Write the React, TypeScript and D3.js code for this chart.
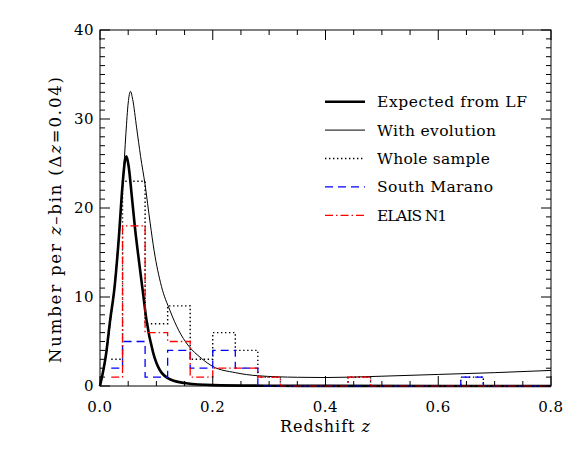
import * as d3 from "d3";

// redshift bins, width 0.04, starting at z = 0
const binStart = 0;
const binWidth = 0.04;
const wholeSample = [3, 23, 7, 9, 3, 6, 4, 1, 0, 0, 0, 1, 0, 0, 0, 0, 1, 0, 0, 0];
const southMarano = [2, 5, 1, 4, 2, 4, 2, 0, 0, 0, 0, 0, 0, 0, 0, 0, 1, 0, 0, 0];
const elaisN1 = [1, 18, 6, 5, 1, 2, 2, 1, 0, 0, 0, 1, 0, 0, 0, 0, 0, 0, 0, 0];

// model curves: [z, number]
const expectedLF: [number, number][] = [
  [0, 0], [0.011, 3.7], [0.018, 7.4], [0.026, 11.2], [0.033, 16.3], [0.04, 22.6],
  [0.044, 25.2], [0.047, 25.8], [0.051, 24.6], [0.056, 21.6], [0.062, 17.8],
  [0.07, 13.6], [0.076, 10.6], [0.082, 7.6], [0.094, 3.8], [0.106, 1.8], [0.126, 0.7],
  [0.153, 0.3], [0.2, 0.1], [0.3, 0.03], [0.4, 0.01], [0.8, 0],
];
const withEvolution: [number, number][] = [
  [0, 0], [0.011, 3.5], [0.018, 7], [0.026, 11.5], [0.035, 18.1], [0.041, 23.2],
  [0.046, 28.4], [0.05, 31.8], [0.054, 33.1], [0.058, 32.2], [0.065, 29],
  [0.072, 25.8], [0.08, 22.6], [0.089, 18.3], [0.096, 15.2], [0.109, 11.2],
  [0.124, 8.5], [0.14, 6.2], [0.156, 4.6], [0.18, 3.1], [0.2, 2.2], [0.24, 1.5],
  [0.28, 1.15], [0.35, 0.98], [0.4, 0.95], [0.5, 1.1], [0.6, 1.3], [0.7, 1.5],
  [0.8, 1.75],
];

const xTicks = [0, 0.2, 0.4, 0.6, 0.8];
const yTicks = [0, 10, 20, 30, 40];
const legendLabels = ["Expected from LF", "With evolution", "Whole sample", "South Marano", "ELAIS N1"];
const legendWidths = [150, 119, 113, 116, 70];

const W = 581;
const H = 451;
const left = 100;
const right = 551;
const top = 30;
const bottom = 386;
const textStyle = { fontFamily: "'DejaVu Serif', 'Liberation Serif', serif" };

export default function App() {
  const x = d3.scaleLinear().domain([0, 0.8]).range([left, right]);
  const y = d3.scaleLinear().domain([0, 40]).range([bottom, top]);

  const curve = d3
    .line<[number, number]>()
    .x((d) => x(d[0]))
    .y((d) => y(d[1]))
    .curve(d3.curveMonotoneX);

  // IDL psym=10 style histogram: starts at first bin centre
  const hist = (vals: number[]) => {
    let p = `M${x(binStart + binWidth / 2)},${y(vals[0])}`;
    vals.forEach((v, i) => {
      if (i > 0) p += `V${y(v)}`;
      p += `H${x(Math.min(binStart + (i + 1) * binWidth, 0.8))}`;
    });
    return p;
  };

  const xMinor = d3.range(0, 0.8001, 0.05);
  const yMinor = d3.range(0, 40.001, 1);

  const styles = [
    { w: 2.6, c: "#000", dash: "" },
    { w: 1, c: "#000", dash: "" },
    { w: 1.4, c: "#000", dash: "1.4 2.6" },
    { w: 1.3, c: "#0000ff", dash: "8 5" },
    { w: 1.3, c: "#ff0000", dash: "8 3 1.5 3" },
  ];

  return (
    <svg width={W} height={H} style={{ position: "absolute", left: 0, top: 0 }}>
      <rect width={W} height={H} fill="#fff" />

      {/* curves */}
      <path d={curve(withEvolution) ?? ""} fill="none" stroke="#000" strokeWidth={1} />
      <path d={curve(expectedLF) ?? ""} fill="none" stroke="#000" strokeWidth={2.6} />

      {/* histograms */}
      <path d={hist(wholeSample)} fill="none" stroke="#000" strokeWidth={1.4} strokeDasharray="1.4 2.6" />
      <path d={hist(southMarano)} fill="none" stroke="#0000ff" strokeWidth={1.3} strokeDasharray="8 5" />
      <path d={hist(elaisN1)} fill="none" stroke="#ff0000" strokeWidth={1.3} strokeDasharray="8 3 1.5 3" />

      {/* frame */}
      <rect x={left} y={top} width={right - left} height={bottom - top} fill="none" stroke="#000" strokeWidth={1} />

      {/* x ticks, bottom and top */}
      {xMinor.map((t) => {
        const major = xTicks.some((m) => Math.abs(m - t) < 1e-6);
        const len = major ? 10 : 5;
        return (
          <g key={"x" + t} stroke="#000" strokeWidth={1}>
            <line x1={x(t)} x2={x(t)} y1={bottom} y2={bottom - len} />
            <line x1={x(t)} x2={x(t)} y1={top} y2={top + len} />
          </g>
        );
      })}
      {/* y ticks, left and right */}
      {yMinor.map((t) => {
        const major = yTicks.includes(Math.round(t)) && Math.abs(t - Math.round(t)) < 1e-6;
        const len = major ? 10 : 5;
        return (
          <g key={"y" + t} stroke="#000" strokeWidth={1}>
            <line x1={left} x2={left + len} y1={y(t)} y2={y(t)} />
            <line x1={right} x2={right - len} y1={y(t)} y2={y(t)} />
          </g>
        );
      })}

      {/* tick labels */}
      {xTicks.map((t) => (
        <text key={"xl" + t} x={x(t)} y={412} textAnchor="middle" fontSize={15} letterSpacing={0.5} fill="#000" style={textStyle}>
          {t.toFixed(1)}
        </text>
      ))}
      {yTicks.map((t) => (
        <text key={"yl" + t} x={94} y={y(t) + 5} textAnchor="end" fontSize={15} letterSpacing={0.5} fill="#000" style={textStyle}>
          {t}
        </text>
      ))}

      {/* axis titles */}
      <text x={280} y={432} fontSize={16} textLength={90} lengthAdjust="spacing" fill="#000" style={textStyle}>
        Redshift <tspan fontStyle="italic">z</tspan>
      </text>
      <text transform="translate(61,363) rotate(-90)" fontSize={16.5} textLength={286} lengthAdjust="spacing" fill="#000" style={textStyle}>
        Number per <tspan fontStyle="italic">z</tspan>–bin (Δ<tspan fontStyle="italic">z</tspan>=0.04)
      </text>

      {/* legend */}
      {legendLabels.map((lab, i) => {
        const ly = 101.7 + i * 28.4;
        const s = styles[i];
        return (
          <g key={lab}>
            <line x1={325} x2={365} y1={ly} y2={ly} stroke={s.c} strokeWidth={s.w} strokeDasharray={s.dash} />
            <text x={377} y={ly + 5.5} fontSize={15.5} textLength={legendWidths[i]} lengthAdjust="spacing" fill="#000" style={textStyle}>
              {lab}
            </text>
          </g>
        );
      })}
    </svg>
  );
}
